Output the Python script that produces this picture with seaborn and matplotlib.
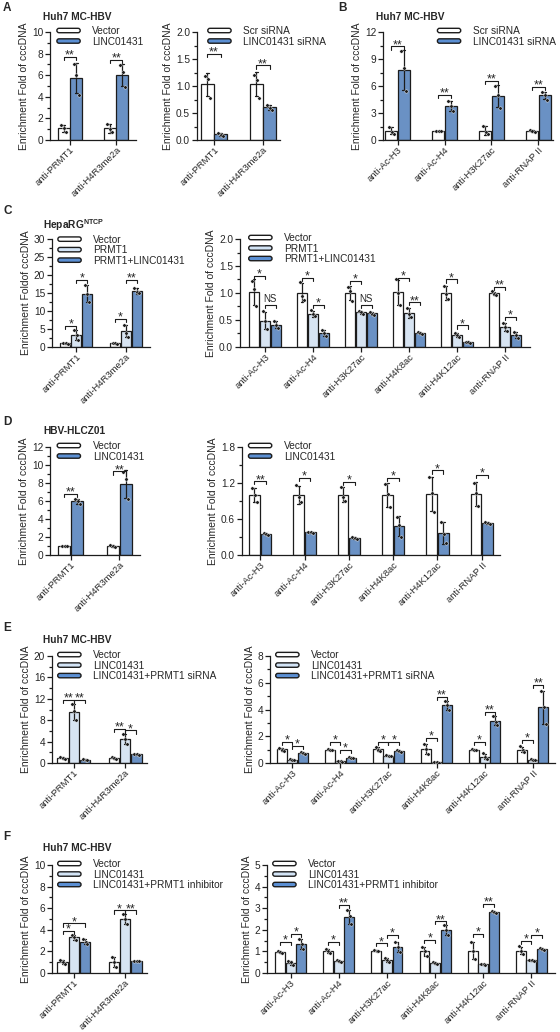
import matplotlib
matplotlib.use("Agg")
import pandas as pd
import matplotlib.pyplot as plt
import seaborn as sns
from matplotlib.patches import FancyBboxPatch, Patch
from matplotlib.legend_handler import HandlerPatch
from matplotlib.ticker import AutoMinorLocator, FormatStrFormatter

sns.set_style("ticks")
plt.rcParams["font.family"] = ["Liberation Sans", "DejaVu Sans"]
plt.rcParams["font.size"] = 7.3
plt.rcParams["mathtext.fontset"] = "custom"
plt.rcParams["mathtext.bf"] = "Liberation Sans:bold"
plt.rcParams["mathtext.rm"] = "Liberation Sans"

WHITE = "#ffffff"
LIGHT = "#d3e4f6"
BLUE = "#5b8fd3"
EDGE = "#1c1c1c"

# ==========================================
# DATA (3 replicates per bar)
# ==========================================

TWO_TARGETS = ["anti-PRMT1", "anti-H4R3me2a"]
SIX_TARGETS = ["anti-Ac-H3", "anti-Ac-H4", "anti-H3K27ac",
               "anti-H4K8ac", "anti-H4K12ac", "anti-RNAP II"]
B_TARGETS = ["anti-Ac-H3", "anti-Ac-H4", "anti-H3K27ac", "anti-RNAP II"]

# A - overexpression
A1_GROUPS = ["Vector", "LINC01431"]
A1_VECTOR = [[1.4, 1.1, 0.7], [1.45, 1.05, 0.7]]
A1_LINC = [[7.0, 6.0, 4.2], [6.9, 6.3, 4.9]]
A1_SIGS = [(0, 0, 1, 7.7, "**"), (1, 0, 1, 7.4, "**")]

# A - knockdown
SI_GROUPS = ["Scr siRNA", "LINC01431 siRNA"]
A2_SCR = [[1.18, 1.13, 0.78], [1.2, 1.12, 0.78]]
A2_SI = [[0.13, 0.10, 0.08], [0.65, 0.60, 0.56]]
A2_SIGS = [(0, 0, 1, 1.6, "**"), (1, 0, 1, 1.38, "**")]

# B
B_SCR = [[1.45, 0.9, 0.7], [1.05, 1.0, 0.95], [1.6, 0.85, 0.7], [1.1, 1.0, 0.92]]
B_SI = [[9.9, 8.0, 5.5], [4.3, 3.75, 3.25], [6.0, 5.0, 3.6], [5.35, 5.0, 4.5]]
B_SIGS = [(0, 0, 1, 10.4, "**"), (1, 0, 1, 5.0, "**"),
          (2, 0, 1, 6.6, "**"), (3, 0, 1, 5.9, "**")]

# C - HepaRG NTCP
C_GROUPS = ["Vector", "PRMT1", "PRMT1+LINC01431"]
C1_VECTOR = [[1.2, 1.0, 0.85], [1.15, 1.0, 0.85]]
C1_PRMT1 = [[4.7, 3.2, 2.0], [6.2, 4.0, 2.9]]
C1_COMBO = [[17.2, 14.6, 12.6], [16.4, 15.3, 14.9]]
C1_SIGS = [(0, 0, 1, 5.8, "*"), (0, 1, 2, 18.7, "*"),
           (1, 0, 1, 7.9, "*"), (1, 1, 2, 18.7, "**")]

C2_VECTOR = [[1.23, 1.07, 0.75], [1.2, 0.95, 0.87], [1.12, 1.03, 0.86],
             [1.25, 1.0, 0.78], [1.13, 0.98, 0.88], [1.03, 0.99, 0.97]]
C2_PRMT1 = [[0.66, 0.48, 0.33], [0.68, 0.61, 0.57], [0.67, 0.64, 0.61],
            [0.72, 0.62, 0.55], [0.25, 0.22, 0.19], [0.44, 0.37, 0.30]]
C2_COMBO = [[0.48, 0.41, 0.35], [0.31, 0.26, 0.20], [0.65, 0.62, 0.60],
            [0.28, 0.26, 0.24], [0.10, 0.09, 0.07], [0.28, 0.22, 0.17]]
C2_SIGS = [(0, 0, 1, 1.32, "*"), (0, 1, 2, 0.78, "NS"),
           (1, 0, 1, 1.28, "*"), (1, 1, 2, 0.78, "*"),
           (2, 0, 1, 1.23, "*"), (2, 1, 2, 0.78, "NS"),
           (3, 0, 1, 1.28, "*"), (3, 1, 2, 0.83, "**"),
           (4, 0, 1, 1.25, "*"), (4, 1, 2, 0.40, "*"),
           (5, 0, 1, 1.12, "**"), (5, 1, 2, 0.56, "*")]

# D - HBV-HLCZ01
D_GROUPS = ["Vector", "LINC01431"]
D1_VECTOR = [[1.05, 1.0, 0.95], [1.12, 1.0, 0.85]]
D1_LINC = [[6.2, 5.95, 5.7], [9.2, 8.4, 6.2]]
D1_SIGS = [(0, 0, 1, 6.8, "**"), (1, 0, 1, 9.3, "**")]

D2_VECTOR = [[1.12, 1.0, 0.88], [1.17, 0.97, 0.88], [1.14, 0.97, 0.9],
             [1.19, 1.02, 0.8], [1.3, 1.03, 0.72], [1.2, 1.03, 0.81]]
D2_LINC = [[0.36, 0.35, 0.34], [0.39, 0.38, 0.37], [0.30, 0.28, 0.26],
           [0.64, 0.50, 0.30], [0.55, 0.35, 0.20], [0.55, 0.53, 0.51]]
D2_SIGS = [(0, 0, 1, 1.23, "**"), (1, 0, 1, 1.29, "*"), (2, 0, 1, 1.22, "*"),
           (3, 0, 1, 1.29, "*"), (4, 0, 1, 1.41, "*"), (5, 0, 1, 1.34, "*")]

# E - PRMT1 siRNA rescue
E_GROUPS = ["Vector", "LINC01431", "LINC01431+PRMT1 siRNA"]
E1_VECTOR = [[1.2, 1.0, 0.8], [1.2, 1.0, 0.8]]
E1_LINC = [[11.0, 9.8, 8.0], [5.4, 4.5, 3.6]]
E1_SI = [[0.7, 0.6, 0.55], [1.7, 1.6, 1.5]]
E1_SIGS = [(0, 0, 1, 11.8, "**"), (0, 1, 2, 11.8, "**"),
           (1, 0, 1, 6.4, "**"), (1, 1, 2, 6.1, "*")]

E2_VECTOR = [[1.15, 1.0, 0.9], [1.02, 1.0, 0.97], [1.17, 1.0, 0.88],
             [1.4, 1.05, 0.7], [1.05, 1.0, 0.95], [1.25, 0.95, 0.82]]
E2_LINC = [[0.30, 0.26, 0.22], [0.16, 0.13, 0.10], [0.60, 0.55, 0.50],
           [0.06, 0.05, 0.03], [0.72, 0.42, 0.30], [0.28, 0.25, 0.22]]
E2_SI = [[0.80, 0.72, 0.64], [0.46, 0.40, 0.34], [1.0, 0.92, 0.84],
         [4.65, 4.3, 3.95], [3.5, 3.1, 2.85], [5.4, 4.15, 2.9]]
E2_SIGS = [(0, 0, 1, 1.57, "*"), (0, 1, 2, 1.28, "*"),
           (1, 0, 1, 1.57, "*"), (1, 1, 2, 1.0, "*"),
           (2, 0, 1, 1.6, "*"), (2, 1, 2, 1.6, "*"),
           (3, 0, 1, 1.86, "*"), (3, 1, 2, 4.95, "**"),
           (4, 0, 1, 1.57, "*"), (4, 1, 2, 3.85, "**"),
           (5, 0, 1, 1.73, "*"), (5, 1, 2, 5.85, "**")]

# F - PRMT1 inhibitor rescue
F_GROUPS = ["Vector", "LINC01431", "LINC01431+PRMT1 inhibitor"]
F1_VECTOR = [[1.2, 1.0, 0.8], [1.45, 1.0, 0.6]]
F1_LINC = [[3.55, 3.3, 3.05], [5.45, 5.0, 4.55]]
F1_INH = [[3.15, 2.9, 2.7], [1.13, 1.1, 1.07]]
F1_SIGS = [(0, 0, 1, 3.9, "*"), (0, 0, 2, 4.6, "*"),
           (1, 0, 1, 5.8, "*"), (1, 1, 2, 5.8, "**")]

F2_VECTOR = [[1.04, 0.98, 0.94], [1.1, 1.0, 0.93], [1.07, 1.04, 1.0],
             [1.22, 1.0, 0.8], [1.45, 1.0, 0.65], [1.24, 1.0, 0.88]]
F2_LINC = [[0.56, 0.50, 0.38], [0.59, 0.55, 0.51], [0.69, 0.60, 0.52],
           [0.52, 0.47, 0.43], [0.43, 0.41, 0.38], [0.61, 0.58, 0.55]]
F2_INH = [[1.58, 1.35, 1.1], [2.9, 2.65, 2.25], [1.45, 1.22, 0.99],
          [2.22, 1.97, 1.74], [2.88, 2.82, 2.76], [1.16, 1.12, 1.08]]
F2_SIGS = [(0, 0, 1, 1.45, "*"), (0, 1, 2, 1.8, "*"),
           (1, 0, 1, 1.43, "*"), (1, 1, 2, 3.17, "**"),
           (2, 0, 1, 1.38, "*"), (2, 1, 2, 1.77, "*"),
           (3, 0, 1, 1.54, "*"), (3, 1, 2, 2.4, "**"),
           (4, 0, 1, 1.8, "*"), (4, 1, 2, 3.2, "**"),
           (5, 0, 1, 1.5, "*"), (5, 1, 2, 1.77, "*")]

# ==========================================
# FIGURE
# ==========================================

W, H = 560, 1032
fig = plt.figure(figsize=(W / 100, H / 100), dpi=100)


class Pill(HandlerPatch):
    def create_artists(self, legend, orig, xd, yd, w, h, fs, trans):
        hh = h * 0.62
        p = FancyBboxPatch((-xd, -yd + (h - hh) / 2), w, hh,
                           boxstyle=f"round,pad=0,rounding_size={hh / 2}",
                           facecolor=orig.get_facecolor(), edgecolor=EDGE,
                           linewidth=1.0, transform=trans)
        return [p]


def panel(box, targets, groups, colors, reps, ymax, step, sigs, pad, width,
          leg_x, fmt="%d", ylabel="Enrichment Fold of cccDNA", leg_y=1.055):
    x0, x1, top, bot = box
    ax = fig.add_axes([x0 / W, 1 - bot / H, (x1 - x0) / W, (bot - top) / H])

    rows = []
    for g, gvals in zip(groups, reps):
        for t, vals in zip(targets, gvals):
            for v in vals:
                rows.append({"target": t, "group": g, "value": v})
    df = pd.DataFrame(rows)

    sns.barplot(data=df, x="target", y="value", hue="group", order=targets,
                hue_order=groups, palette=colors, errorbar="sd", capsize=0.12,
                err_kws={"color": EDGE, "linewidth": 0.9}, edgecolor=EDGE,
                linewidth=0.9, width=width, gap=0.06, legend=False, ax=ax)

    n = len(groups)
    bw = width / n

    def xc(i, k):
        return i - width / 2 + bw * (k + 0.5)

    # replicate dots
    for k, gvals in enumerate(reps):
        for i, vals in enumerate(gvals):
            xs = [xc(i, k) + d * bw for d in (-0.2, 0.03, 0.2)]
            ax.scatter(xs, vals, s=6, c=EDGE, edgecolors="white",
                       linewidths=0.3, zorder=4)

    # significance brackets
    tick = 0.03 * ymax
    for i, a, b, y, lab in sigs:
        xa, xb = xc(i, a), xc(i, b)
        ax.plot([xa, xa, xb, xb], [y - tick, y, y, y - tick],
                color=EDGE, lw=0.8, clip_on=False, zorder=5)
        if lab == "NS":
            ax.annotate(lab, ((xa + xb) / 2, y), xytext=(0, 0.5),
                        textcoords="offset points", ha="center", va="bottom",
                        fontsize=7)
        else:
            ax.annotate(lab, ((xa + xb) / 2, y), xytext=(0, -1.3),
                        textcoords="offset points", ha="center",
                        va="baseline", fontsize=9)

    ax.set_xlim(-pad, len(targets) - 1 + pad)
    ax.set_ylim(0, ymax)
    ax.set_yticks([step * j for j in range(int(round(ymax / step)) + 1)])
    ax.yaxis.set_major_formatter(FormatStrFormatter(fmt))
    ax.yaxis.set_minor_locator(AutoMinorLocator(2))
    ax.tick_params(axis="both", which="major", length=3.5, width=0.9,
                   pad=1.5, labelsize=7.3, color=EDGE)
    ax.tick_params(axis="x", labelsize=6.8, pad=0.5)
    ax.tick_params(axis="y", which="minor", length=2, width=0.9, color=EDGE)
    sns.despine(ax=ax)
    for s in ["left", "bottom"]:
        ax.spines[s].set_linewidth(0.9)
        ax.spines[s].set_color(EDGE)

    ax.set_xlabel("")
    ax.set_ylabel(ylabel, family=["Liberation Sans Narrow", "Liberation Sans"],
                  fontsize=7.5, labelpad=2)
    for lab in ax.get_xticklabels():
        lab.set_rotation(45)
        lab.set_ha("right")
        lab.set_rotation_mode("anchor")

    handles = [Patch(facecolor=c, edgecolor=EDGE, label=g)
               for g, c in zip(groups, colors)]
    ax.legend(handles=handles, loc="upper left", bbox_to_anchor=(leg_x, leg_y),
              frameon=False, borderaxespad=0, borderpad=0, handlelength=2.3,
              handleheight=0.7, handletextpad=1.2, labelspacing=0.05,
              fontsize=7.3, handler_map={Patch: Pill()})
    return ax


TWO = [WHITE, BLUE]
THREE = [WHITE, LIGHT, BLUE]

# row A / B
panel((50, 136, 32, 140), TWO_TARGETS, A1_GROUPS, TWO, [A1_VECTOR, A1_LINC],
      10, 2, A1_SIGS, 0.43, 0.54, 0.08)
panel((197, 280, 32, 140), TWO_TARGETS, SI_GROUPS, TWO, [A2_SCR, A2_SI],
      2.0, 0.5, A2_SIGS, 0.35, 0.54, 0.13, fmt="%.1f")
panel((383, 553, 32, 140), B_TARGETS, SI_GROUPS, TWO, [B_SCR, B_SI],
      12, 3, B_SIGS, 0.31, 0.54, 0.32)

# row C
panel((52, 150, 239, 347), TWO_TARGETS, C_GROUPS, THREE,
      [C1_VECTOR, C1_PRMT1, C1_COMBO], 30, 5, C1_SIGS, 0.49, 0.66, 0.06,
      ylabel="Enrichment Foldof cccDNA", leg_y=1.04)
panel((240, 530, 239, 347), SIX_TARGETS, C_GROUPS, THREE,
      [C2_VECTOR, C2_PRMT1, C2_COMBO], 2.0, 0.5, C2_SIGS, 0.52, 0.68, 0.03,
      fmt="%.1f")

# row D
panel((50, 140, 447, 555), TWO_TARGETS, D_GROUPS, TWO, [D1_VECTOR, D1_LINC],
      12, 2, D1_SIGS, 0.43, 0.54, 0.08)
panel((242, 500, 447, 555), SIX_TARGETS, D_GROUPS, TWO, [D2_VECTOR, D2_LINC],
      1.8, 0.6, D2_SIGS, 0.41, 0.52, 0.025, fmt="%.1f")

# row E
panel((52, 147, 656, 763), TWO_TARGETS, E_GROUPS, THREE,
      [E1_VECTOR, E1_LINC, E1_SI], 20, 4, E1_SIGS, 0.43, 0.66, 0.06)
panel((270, 555, 656, 763), SIX_TARGETS, E_GROUPS, THREE,
      [E2_VECTOR, E2_LINC, E2_SI], 8, 2, E2_SIGS, 0.46, 0.66, 0.02)

# row F
panel((52, 147, 865, 973), TWO_TARGETS, F_GROUPS, THREE,
      [F1_VECTOR, F1_LINC, F1_INH], 10, 2, F1_SIGS, 0.43, 0.66, 0.06)
panel((267, 555, 865, 973), SIX_TARGETS, F_GROUPS, THREE,
      [F2_VECTOR, F2_LINC, F2_INH], 5, 1, F2_SIGS, 0.49, 0.66, 0.02)

# panel letters and titles
for letter, x, y in [("A", 3, 8), ("B", 338, 8), ("C", 3, 211),
                     ("D", 3, 422), ("E", 3, 628), ("F", 3, 837)]:
    fig.text(x / W, 1 - y / H, letter, fontsize=8.5, fontweight="bold",
             va="center", ha="left")

for title, x, y in [("Huh7 MC-HBV", 43, 17), ("Huh7 MC-HBV", 376, 17),
                    (r"$\mathbf{HepaRG}^{\mathbf{NTCP}}$", 43, 225),
                    ("HBV-HLCZ01", 43, 431), ("Huh7 MC-HBV", 43, 640),
                    ("Huh7 MC-HBV", 43, 848)]:
    fig.text(x / W, 1 - y / H, title, fontsize=7.3, fontweight="bold",
             va="center", ha="left")

fig.savefig("out.png", dpi=100)
